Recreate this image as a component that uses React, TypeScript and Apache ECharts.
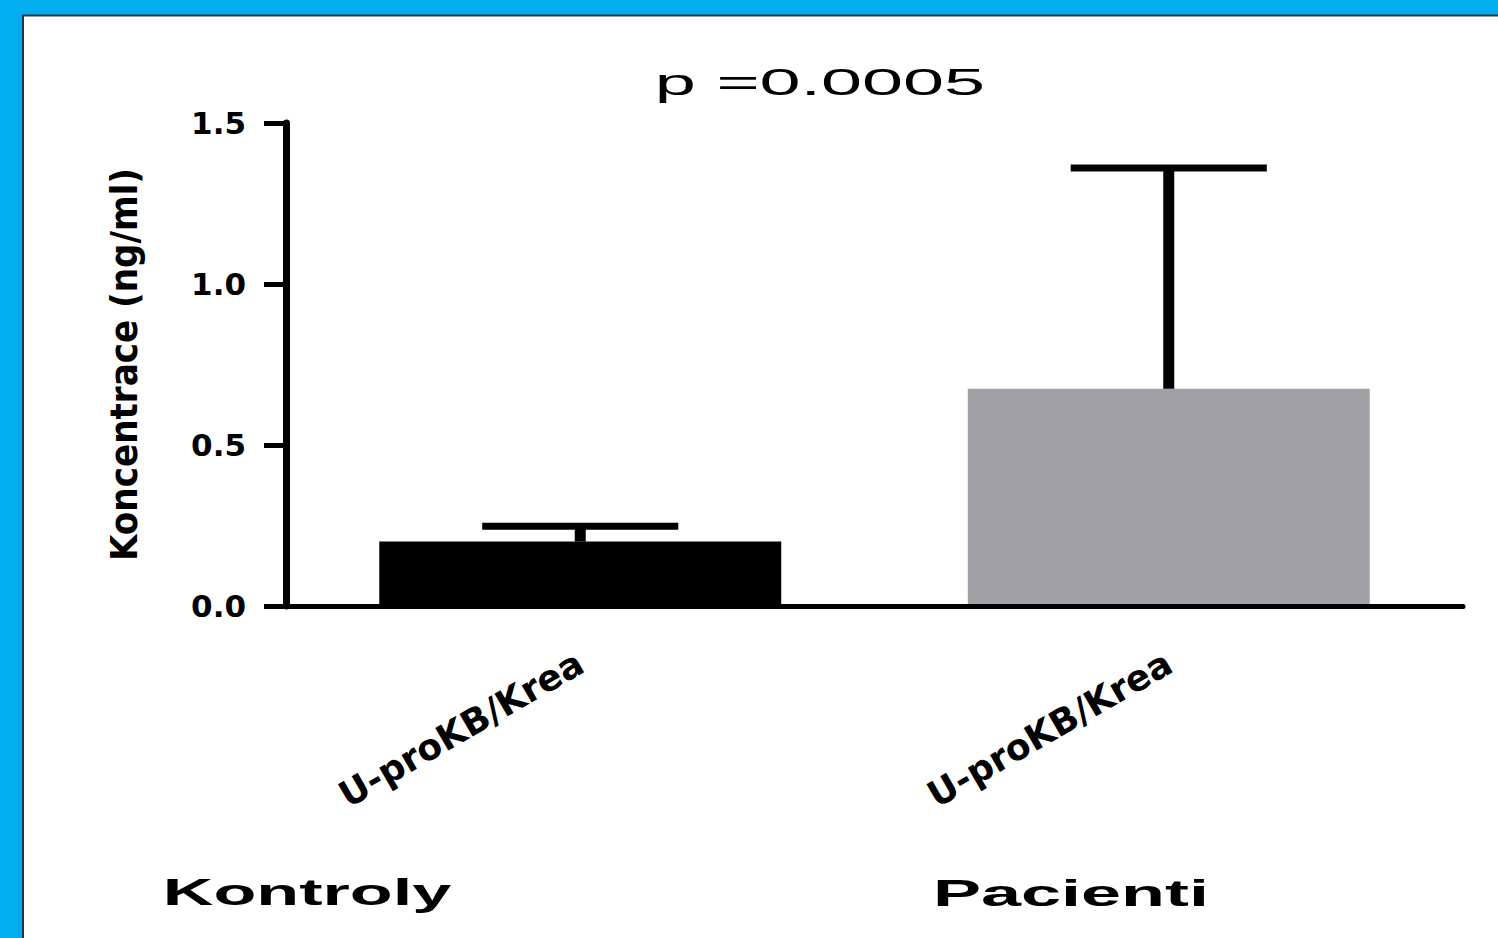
import React, { useEffect, useRef } from "react";
import * as echarts from "echarts";

const categories = ["U-proKB/Krea", "U-proKB/Krea"];
const groups = ["Kontroly", "Pacienti"];
const means = [0.2, 0.675];
const upperErr = [0.248, 1.36];
const barColors = ["#000000", "#A09FA4"];
const titleText = "p =0.0005";
const yName = "Koncentrace (ng/ml)";

export default function App() {
  const ref = useRef<HTMLDivElement>(null);
  useEffect(() => {
    if (!ref.current) return;
    const chart = echarts.init(ref.current, null, { renderer: "svg" });
    const option: any = {
      animation: false,
      backgroundColor: "#00AEEF",
      graphic: [
        {
          type: "rect",
          z: -10,
          shape: { x: 23, y: 15.5, width: 1490, height: 940 },
          style: { fill: "#ffffff", stroke: "#2a3440", lineWidth: 2 },
        },
        {
          type: "text",
          x: 820,
          y: 82,
          scaleX: 2.05,
          style: {
            text: titleText,
            fontFamily: "'Liberation Sans', Arial, sans-serif",
            fontSize: 36,
            fill: "#000",
            textAlign: "center",
            textVerticalAlign: "middle",
          },
        },
        {
          type: "text",
          x: 307,
          y: 893,
          scaleX: 1.95,
          style: {
            text: groups[0],
            fontFamily: "'Liberation Sans', Arial, sans-serif",
            fontWeight: "bold",
            fontSize: 36,
            fill: "#000",
            textAlign: "center",
            textVerticalAlign: "middle",
          },
        },
        {
          type: "text",
          x: 1071,
          y: 893,
          scaleX: 2.0,
          style: {
            text: groups[1],
            fontFamily: "'Liberation Sans', Arial, sans-serif",
            fontWeight: "bold",
            fontSize: 36,
            fill: "#000",
            textAlign: "center",
            textVerticalAlign: "middle",
          },
        },
      ],
      grid: { left: 286, right: 35, top: 123, bottom: 332, containLabel: false },
      xAxis: {
        type: "category",
        data: categories,
        z: 5,
        axisLine: { lineStyle: { color: "#000", width: 5 } },
        axisTick: { alignWithLabel: true, length: 12, lineStyle: { color: "#000", width: 7 } },
        axisLabel: {
          rotate: 30,
          margin: 54,
          interval: 0,
          fontFamily: "'DejaVu Sans', sans-serif",
          fontWeight: "bold",
          fontSize: 36,
          color: "#000",
        },
        splitLine: { show: false },
      },
      yAxis: {
        type: "value",
        min: 0,
        max: 1.5,
        interval: 0.5,
        z: 5,
        name: yName,
        nameLocation: "middle",
        nameRotate: 90,
        nameGap: 143,
        nameTextStyle: {
          fontFamily: "'Liberation Sans Narrow', 'DejaVu Sans Condensed', sans-serif",
          fontWeight: "bold",
          fontSize: 38,
          color: "#000",
        },
        axisLine: { show: true, lineStyle: { color: "#000", width: 7 } },
        axisTick: { show: true, length: 22, lineStyle: { color: "#000", width: 5 } },
        axisLabel: {
          margin: 40,
          formatter: (v: number) => v.toFixed(1),
          fontFamily: "'DejaVu Sans', sans-serif",
          fontWeight: "bold",
          fontSize: 31,
          color: "#000",
        },
        splitLine: { show: false },
      },
      series: [
        {
          type: "bar",
          barWidth: "68.3%",
          data: means.map((v, i) => ({ value: v, itemStyle: { color: barColors[i] } })),
          z: 2,
        },
        {
          type: "custom",
          z: 6,
          data: means.map((m, i) => [i, m, upperErr[i]]),
          encode: { x: 0, y: [1, 2] },
          renderItem: (params: any, api: any) => {
            const x = api.value(0);
            const lo = api.coord([x, api.value(1)]);
            const hi = api.coord([x, api.value(2)]);
            const band = api.size([1, 0])[0];
            const half = band * 0.1666;
            return {
              type: "group",
              children: [
                {
                  type: "line",
                  shape: { x1: lo[0], y1: lo[1], x2: hi[0], y2: hi[1] - 3 },
                  style: { stroke: "#000", lineWidth: 11 },
                },
                {
                  type: "line",
                  shape: { x1: hi[0] - half, y1: hi[1], x2: hi[0] + half, y2: hi[1] },
                  style: { stroke: "#000", lineWidth: 7 },
                },
              ],
            };
          },
        },
      ],
    };
    chart.setOption(option);
    return () => chart.dispose();
  }, []);
  return (
    <div
      ref={ref}
      style={{ position: "fixed", left: 0, top: 0, width: 1498, height: 938 }}
    />
  );
}
